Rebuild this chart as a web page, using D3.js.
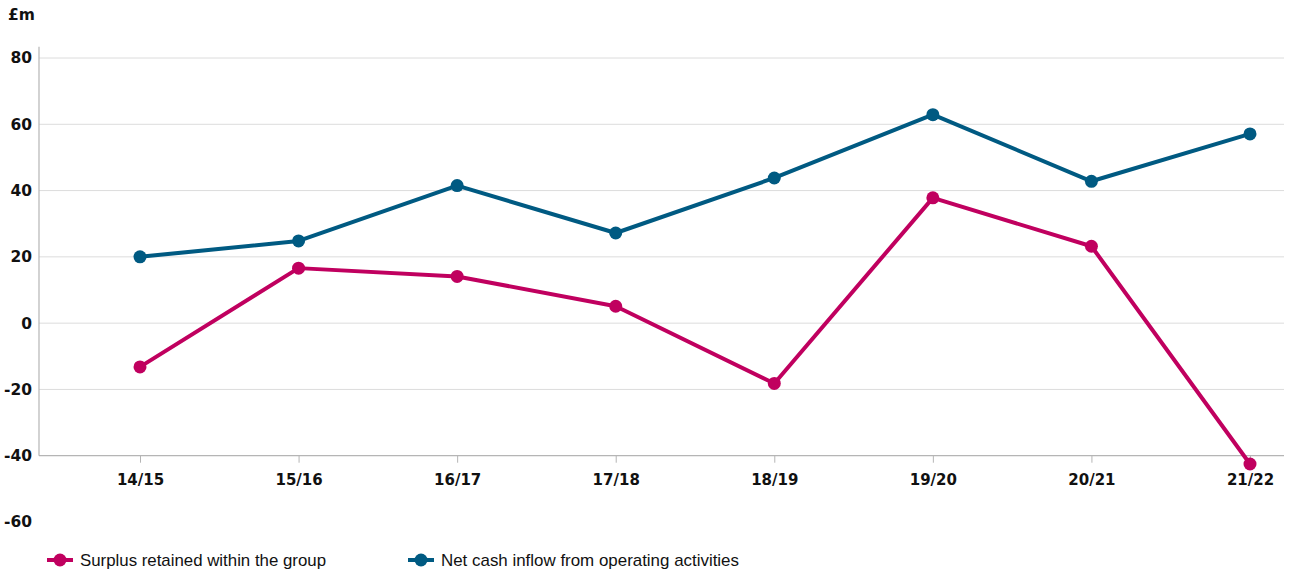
<!DOCTYPE html>
<html>
<head>
<meta charset="utf-8">
<script src="https://cdn.jsdelivr.net/npm/d3@7/dist/d3.min.js"></script>
<style>
  html, body { margin: 0; padding: 0; background: #fff; }
  svg { display: block; }
</style>
</head>
<body>
<svg id="chart" width="1290" height="573"></svg>
<script>
// Financial years on the x axis
const years = ["14/15", "15/16", "16/17", "17/18", "18/19", "19/20", "20/21", "21/22"];

// £m values per year
const surplusRetained = [-13.2, 16.6, 14.1, 5.1, -18.2, 37.8, 23.2, -42.5];
const netCashInflow   = [20.0, 24.8, 41.5, 27.2, 43.8, 62.9, 42.8, 57.1];

// Y axis tick labels
const yTicks = [80, 60, 40, 20, 0, -20, -40, -60];
const gridValues = [80, 60, 40, 20, 0, -20];

const seriesNames = ["Surplus retained within the group", "Net cash inflow from operating activities"];
const seriesColors = ["#c0005f", "#005a82"];

const svg = d3.select("#chart");

const plotLeft = 39, plotRight = 1284;

const x = d3.scalePoint().domain(years).range([140, 1250]);
const y = d3.scaleLinear().domain([-60, 80]).range([522, 58]);

const labelFont = "'DejaVu Sans', sans-serif";

// Unit label
svg.append("text")
  .attr("x", 8).attr("y", 20)
  .attr("font-family", labelFont).attr("font-weight", "bold")
  .attr("font-size", 15.5).attr("fill", "#111")
  .text("£m");

// Horizontal gridlines
svg.append("g").selectAll("line")
  .data(gridValues).join("line")
  .attr("x1", plotLeft).attr("x2", plotRight)
  .attr("y1", d => y(d)).attr("y2", d => y(d))
  .attr("stroke", "#dcdcdc").attr("stroke-width", 1);

// Y axis (labels only; the line is drawn separately)
const yAxis = svg.append("g")
  .attr("transform", `translate(${plotLeft},0)`)
  .call(d3.axisLeft(y).tickValues(yTicks).tickSize(0).tickPadding(7).tickFormat(d => String(d)));
yAxis.select(".domain").remove();
yAxis.selectAll("text")
  .attr("font-family", labelFont).attr("font-weight", "bold")
  .attr("font-size", 15.5).attr("fill", "#111");

svg.append("line")
  .attr("x1", plotLeft).attr("x2", plotLeft)
  .attr("y1", y(83.4)).attr("y2", y(-40))
  .attr("stroke", "#b5b5b5").attr("stroke-width", 1.2);

// X axis along the -40 line
const xAxis = svg.append("g")
  .attr("transform", `translate(0,${y(-40)})`)
  .call(d3.axisBottom(x).tickSize(7).tickPadding(12));
xAxis.select(".domain").remove();
xAxis.selectAll(".tick line").attr("stroke", "#b5b5b5");
xAxis.selectAll("text")
  .attr("font-family", labelFont).attr("font-weight", "bold")
  .attr("font-size", 15).attr("fill", "#111");
svg.append("line")
  .attr("x1", plotLeft).attr("x2", plotRight)
  .attr("y1", y(-40)).attr("y2", y(-40))
  .attr("stroke", "#b5b5b5").attr("stroke-width", 1.2);

// Series lines and markers
const line = d3.line().x((d, i) => x(years[i])).y(d => y(d));
[surplusRetained, netCashInflow].forEach((vals, si) => {
  const g = svg.append("g");
  g.append("path")
    .datum(vals)
    .attr("d", line)
    .attr("fill", "none")
    .attr("stroke", seriesColors[si])
    .attr("stroke-width", 4)
    .attr("stroke-linejoin", "round");
  g.selectAll("circle")
    .data(vals).join("circle")
    .attr("cx", (d, i) => x(years[i]))
    .attr("cy", d => y(d))
    .attr("r", 6.5)
    .attr("fill", seriesColors[si]);
});

// Legend
const legendFont = "'Liberation Sans Narrow', 'Arial Narrow', 'Liberation Sans', sans-serif";
const legendX = [47, 408];
const legendW = [246, 298];
const legend = svg.append("g");
seriesNames.forEach((name, i) => {
  const g = legend.append("g").attr("transform", `translate(${legendX[i]},560)`);
  g.append("line").attr("x1", 0).attr("x2", 26).attr("y1", 0).attr("y2", 0)
    .attr("stroke", seriesColors[i]).attr("stroke-width", 4);
  g.append("circle").attr("cx", 13).attr("cy", 0).attr("r", 6.5).attr("fill", seriesColors[i]);
  g.append("text")
    .attr("x", 33).attr("y", 0).attr("dy", "0.35em")
    .attr("font-family", legendFont).attr("font-size", 17).attr("fill", "#111")
    .attr("textLength", legendW[i]).attr("lengthAdjust", "spacingAndGlyphs")
    .text(name);
});
</script>
</body>
</html>
